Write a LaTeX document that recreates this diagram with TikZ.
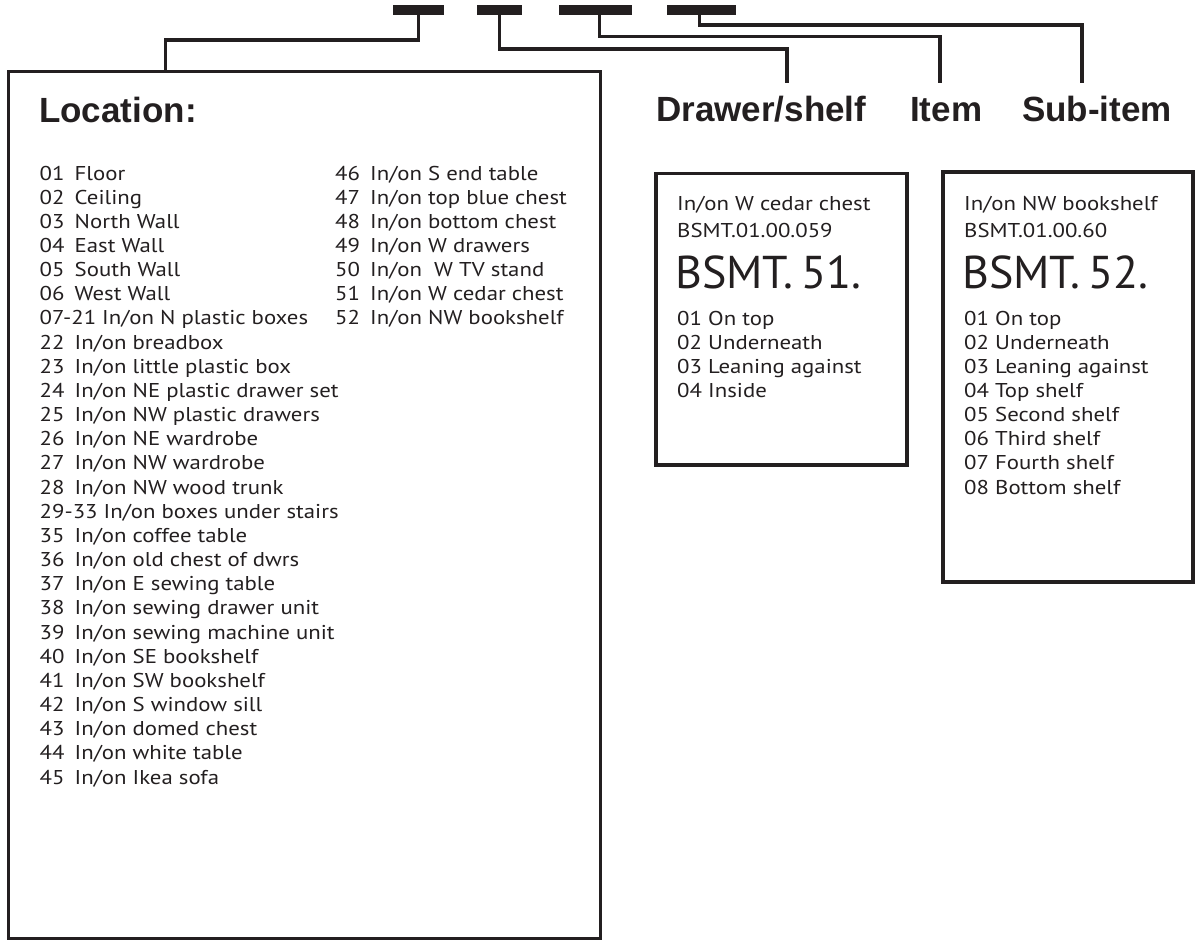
\documentclass[tikz,border=0pt]{standalone}
\usepackage{fontspec}
\setmainfont{PT Sans}
\newfontfamily\listfont[FakeStretch=1.14]{PT Sans}
\newfontfamily\headfont{Liberation Sans}
\usetikzlibrary{positioning}
\definecolor{inkblack}{RGB}{35,31,32}

\newcommand{\inon}{In/on}
\newcommand{\nr}[1]{\makebox[35pt][l]{#1}}
\newcommand{\bnr}[1]{\makebox[31pt][l]{#1}}

\begin{document}
\begin{tikzpicture}[x=1pt, y=-1pt,
    link/.style={draw=inkblack, line width=3.3pt},
    frame/.style={draw=inkblack, line width=3.2pt, anchor=north west, inner sep=0pt, outer sep=0pt},
    codebar/.style={fill=inkblack, minimum height=10pt, inner sep=0pt, outer sep=0pt},
    heading/.style={font=\headfont\bfseries\fontsize{35}{40}\selectfont, text=inkblack, anchor=base west, inner sep=0pt},
    entry/.style={font=\listfont\fontsize{20}{24}\selectfont, text=inkblack, anchor=base west, inner sep=0pt},
    bigcode/.style={font=\fontsize{46}{54}\selectfont, text=inkblack, anchor=base west, inner sep=0pt}
]
\useasboundingbox (0,0) rectangle (1196,940);

% code bars
\node[codebar, minimum width=51pt] (barloc) at (418.5,10) {};
\node[codebar, minimum width=45pt] (bardrawer) at (499.5,10) {};
\node[codebar, minimum width=73pt] (baritem) at (595.5,10) {};
\node[codebar, minimum width=69pt] (barsub) at (701.5,10) {};

% frames
\node[frame, minimum width=591.6pt, minimum height=867.2pt] (locbox) at (8.7,71.3) {};
\node[frame, minimum width=251pt, minimum height=291.5pt] (cedarbox) at (656,173.5) {};
\node[frame, minimum width=250pt, minimum height=410pt] (shelfbox) at (943,172) {};

% headings
\node[heading] (lblloc) at (39,122.5) {Location:};
\node[heading] (lbldrawer) at (656,121.7) {Drawer/shelf};
\node[heading] (lblitem) at (910,121.7) {Item};
\node[heading] (lblsub) at (1022,121.7) {Sub-item};

% connector ends
\coordinate (locin) at (165.5,71.3);
\coordinate (drawerend) at (787,83);
\coordinate (itemend) at (940,83);
\coordinate (subend) at (1082,83);

\draw[link] (barloc.south) -- (barloc.south |- 0,40) -| (locin);
\draw[link] (bardrawer.south) -- (bardrawer.south |- 0,49) -| (drawerend);
\draw[link] ([xshift=4pt]baritem.south) -- ++(0,21.5) -| (itemend);
\draw[link] ([xshift=-2pt]barsub.south) -- ++(0,10) -| (subend);

% location list
\foreach \line [count=\i from 0] in {
    {\nr{01}Floor}, {\nr{02}Ceiling}, {\nr{03}North Wall}, {\nr{04}East Wall},
    {\nr{05}South Wall}, {\nr{06}West Wall}, {07-21 \inon{} N plastic boxes},
    {\nr{22}\inon{} breadbox}, {\nr{23}\inon{} little plastic box},
    {\nr{24}\inon{} NE plastic drawer set}, {\nr{25}\inon{} NW plastic drawers},
    {\nr{26}\inon{} NE wardrobe}, {\nr{27}\inon{} NW wardrobe},
    {\nr{28}\inon{} NW wood trunk}, {29-33 \inon{} boxes under stairs},
    {\nr{35}\inon{} coffee table}, {\nr{36}\inon{} old chest of dwrs},
    {\nr{37}\inon{} E sewing table}, {\nr{38}\inon{} sewing drawer unit},
    {\nr{39}\inon{} sewing machine unit}, {\nr{40}\inon{} SE bookshelf},
    {\nr{41}\inon{} SW bookshelf}, {\nr{42}\inon{} S window sill},
    {\nr{43}\inon{} domed chest}, {\nr{44}\inon{} white table},
    {\nr{45}\inon{} Ikea sofa}}
  \node[entry] (loc\i) at (39.5,180+24.16*\i) {\line};

\foreach \line [count=\i from 0] in {
    {\nr{46}\inon{} S end table}, {\nr{47}\inon{} top blue chest},
    {\nr{48}\inon{} bottom chest}, {\nr{49}\inon{} W drawers},
    {\nr{50}\inon{}~~W TV stand}, {\nr{51}\inon{} W cedar chest},
    {\nr{52}\inon{} NW bookshelf}}
  \node[entry] (locb\i) at (335,180+24.16*\i) {\line};

% drawer cards
\node[entry] (cedarname) at (677,210.7) {\inon{} W cedar chest};
\node[entry] (cedarcode) at (677,237) {BSMT.01.00.059};
\node[bigcode] (cedarbig) at (675,288) {BSMT.\,51.};
\foreach \line [count=\i from 0] in {
    {\bnr{01}On top}, {\bnr{02}Underneath}, {\bnr{03}Leaning against}, {\bnr{04}Inside}}
  \node[entry] (cedar\i) at (677,325+24.16*\i) {\line};

\node[entry] (shelfname) at (964,210.7) {\inon{} NW bookshelf};
\node[entry] (shelfcode) at (964,237) {BSMT.01.00.60};
\node[bigcode] (shelfbig) at (962,288) {BSMT.\,52.};
\foreach \line [count=\i from 0] in {
    {\bnr{01}On top}, {\bnr{02}Underneath}, {\bnr{03}Leaning against},
    {\bnr{04}Top shelf}, {\bnr{05}Second shelf}, {\bnr{06}Third shelf},
    {\bnr{07}Fourth shelf}, {\bnr{08}Bottom shelf}}
  \node[entry] (shelf\i) at (964,325+24.16*\i) {\line};

\end{tikzpicture}
\end{document}
